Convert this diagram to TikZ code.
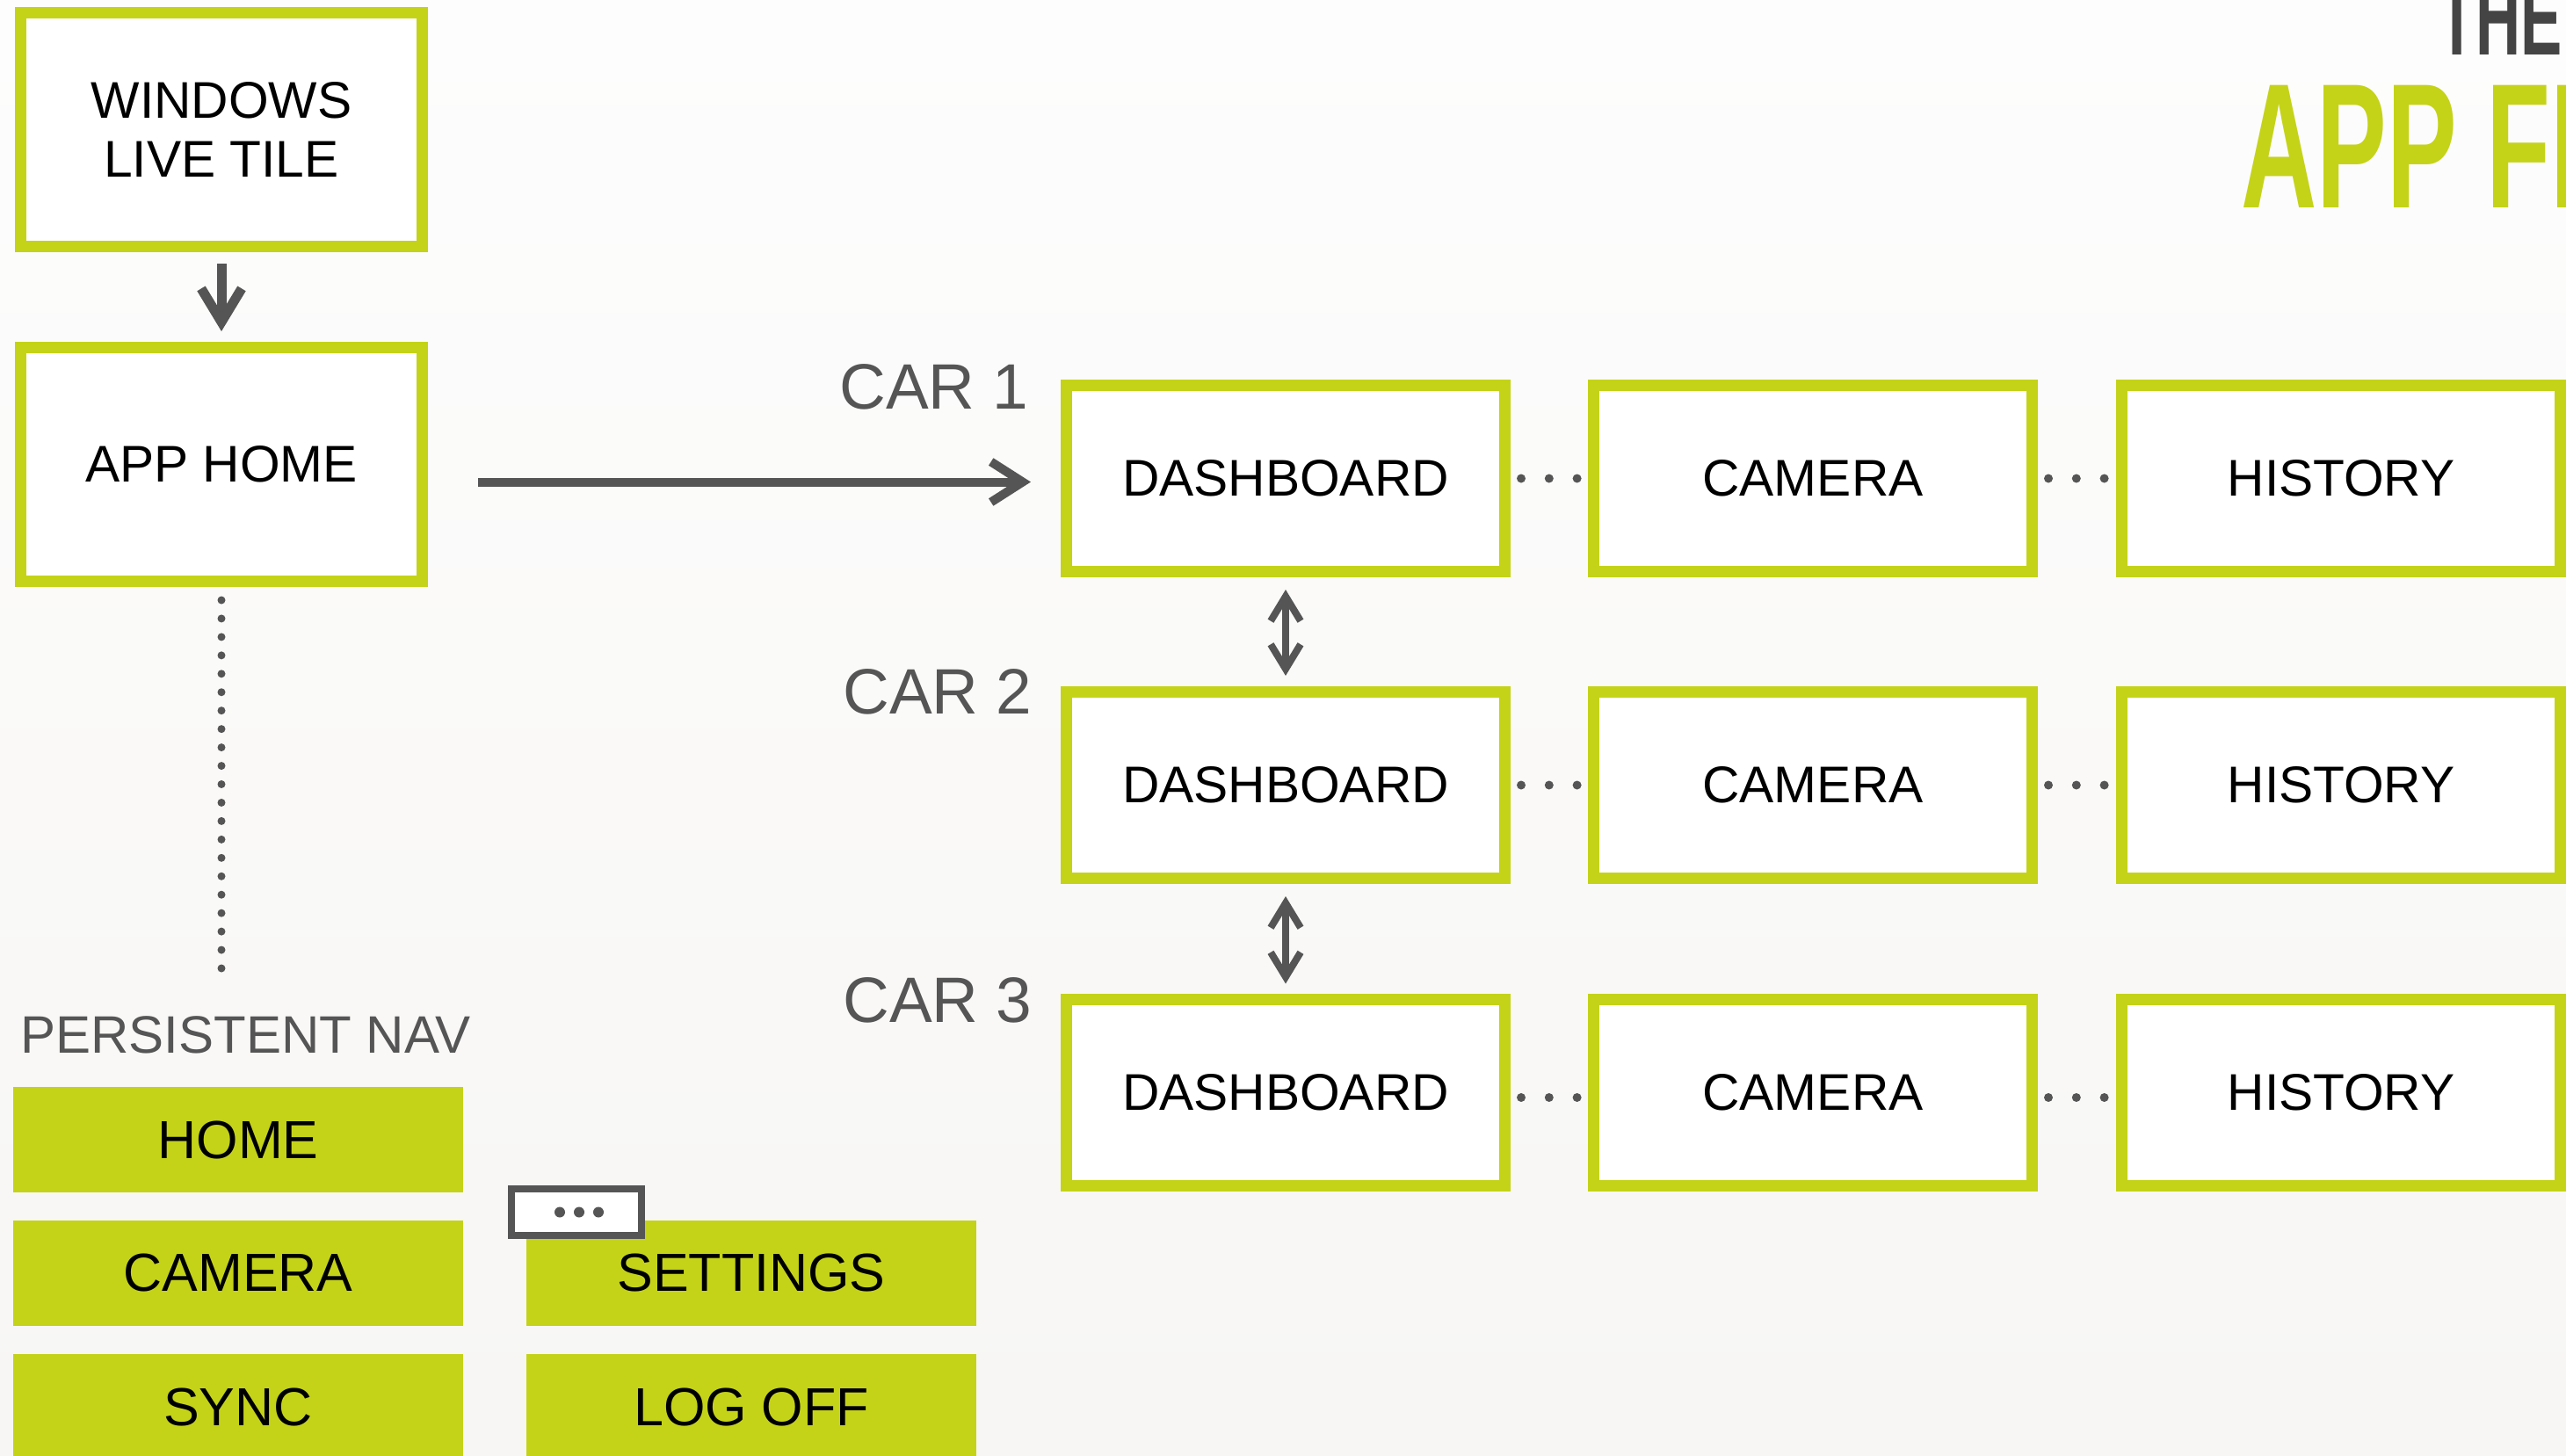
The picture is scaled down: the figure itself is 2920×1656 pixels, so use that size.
\documentclass[tikz,border=0pt]{standalone}
\usepackage{fontspec}
\setmainfont{Liberation Sans}
\newfontfamily\titlefont[FakeStretch=0.59]{Liberation Sans}
\usetikzlibrary{arrows.meta,calc}
\definecolor{lime}{HTML}{C4D318}
\definecolor{ink}{HTML}{555555}
\definecolor{titlegray}{HTML}{444444}
\definecolor{bgtop}{RGB}{253,253,253}
\definecolor{bgbot}{RGB}{247,246,244}
\begin{document}
\begin{tikzpicture}[x=0.5pt,y=-0.5pt,
  screen/.style={draw=lime, line width=6.5pt, fill=white, inner sep=0pt,
    minimum width=249.5pt, minimum height=106pt,
    font=\fontsize{29.35pt}{35pt}\selectfont},
  topscreen/.style={screen, minimum width=228.5pt, minimum height=133pt,
    align=center, font=\fontsize{29.35pt}{33.5pt}\selectfont},
  navbtn/.style={fill=lime, inner sep=0pt, minimum width=256pt,
    minimum height=60pt, font=\fontsize{30.5pt}{36pt}\selectfont},
  carlabel/.style={text=ink, inner sep=0pt, anchor=base east,
    font=\fontsize{36.5pt}{40pt}\selectfont},
  bigarrow/.style={draw=ink, line width=5.5pt,
    -{Straight Barb[length=19pt,width=23pt]}},
  rowarrow/.style={draw=ink, line width=4pt,
    {Straight Barb[length=14pt,width=17pt]}-{Straight Barb[length=14pt,width=17pt]}},
  dotrow/.style={draw=ink, line width=5pt, line cap=round,
    dash pattern=on 0pt off 15.9pt, shorten <=6pt, shorten >=6pt},
  dotcol/.style={draw=ink, line width=4.5pt, line cap=round,
    dash pattern=on 0pt off 10.475pt},
]
% background
\shade[top color=bgtop, bottom color=bgbot] (0,0) rectangle (2920,1656);
\useasboundingbox (0,0) rectangle (2920,1656);

% title
\node[anchor=base west, inner sep=0pt, text=titlegray,
  font=\titlefont\fontsize{60pt}{64pt}\bfseries\selectfont] (the) at (2774,62) {THE};
\node[anchor=base west, inner sep=0pt, text=lime,
  font=\titlefont\fontsize{101.25pt}{110pt}\bfseries\selectfont] (title) at (2550,236) {APP FL};

% left column
\node[topscreen] (wlt) at (252,147.5) {WINDOWS\\LIVE TILE};
\node[topscreen] (apphome) at (252,528.5) {APP HOME};
\draw[bigarrow, shorten <=6.5pt, shorten >=6pt] (wlt.south) -- (apphome.north);

% car rows
\node[screen] (d1) at (1463,544.5) {DASHBOARD};
\node[screen] (c1) at (2063,544.5) {CAMERA};
\node[screen] (h1) at (2664,544.5) {HISTORY};
\node[screen] (d2) at (1463,893.5) {DASHBOARD};
\node[screen] (c2) at (2063,893.5) {CAMERA};
\node[screen] (h2) at (2664,893.5) {HISTORY};
\node[screen] (d3) at (1463,1243) {DASHBOARD};
\node[screen] (c3) at (2063,1243) {CAMERA};
\node[screen] (h3) at (2664,1243) {HISTORY};

\node[carlabel] (car1) at (1171,465) {CAR 1};
\node[carlabel] (car2) at (1175,812) {CAR 2};
\node[carlabel] (car3) at (1175,1163) {CAR 3};

\draw[bigarrow, line width=5pt, -{Straight Barb[length=18pt,width=23pt]},
  shorten <=28.5pt, shorten >=17pt]
  ([yshift=-2pt]apphome.east |- d1.west) -- ([yshift=-2pt]d1.west);

\draw[rowarrow, shorten <=7pt, shorten >=6pt] (d1.south) -- (d2.north);
\draw[rowarrow, shorten <=7pt, shorten >=5.5pt] (d2.south) -- (d3.north);

\draw[dotrow] (d1.east) -- (c1.west);
\draw[dotrow] (c1.east) -- (h1.west);
\draw[dotrow] (d2.east) -- (c2.west);
\draw[dotrow] (c2.east) -- (h2.west);
\draw[dotrow] ([yshift=-3pt]d3.east) -- ([yshift=-3pt]c3.west);
\draw[dotrow] ([yshift=-3pt]c3.east) -- ([yshift=-3pt]h3.west);

% persistent nav
\node[anchor=base west, inner sep=0pt, text=ink,
  font=\fontsize{30pt}{36pt}\selectfont] (pnav) at (23,1198) {PERSISTENT NAV};
\coordinate (navend) at (252,1104);
\draw[dotcol, shorten <=7.5pt] (apphome.south) -- (navend);

\node[navbtn] (home) at (271,1297) {HOME};
\node[navbtn] (camera) at (271,1448.5) {CAMERA};
\node[navbtn] (sync) at (271,1601) {SYNC};
\node[navbtn] (settings) at (855,1448.5) {SETTINGS};
\node[navbtn] (logoff) at (855,1601) {LOG OFF};

\node[draw=ink, line width=4pt, fill=white, inner sep=0pt,
  minimum width=74pt, minimum height=26.5pt] (more) at (656,1379.5) {};
\foreach \dx in {-22,0,22} \fill[ink] ($(more.center)+(\dx+3,0)$) circle[radius=3pt];
\end{tikzpicture}
\end{document}
